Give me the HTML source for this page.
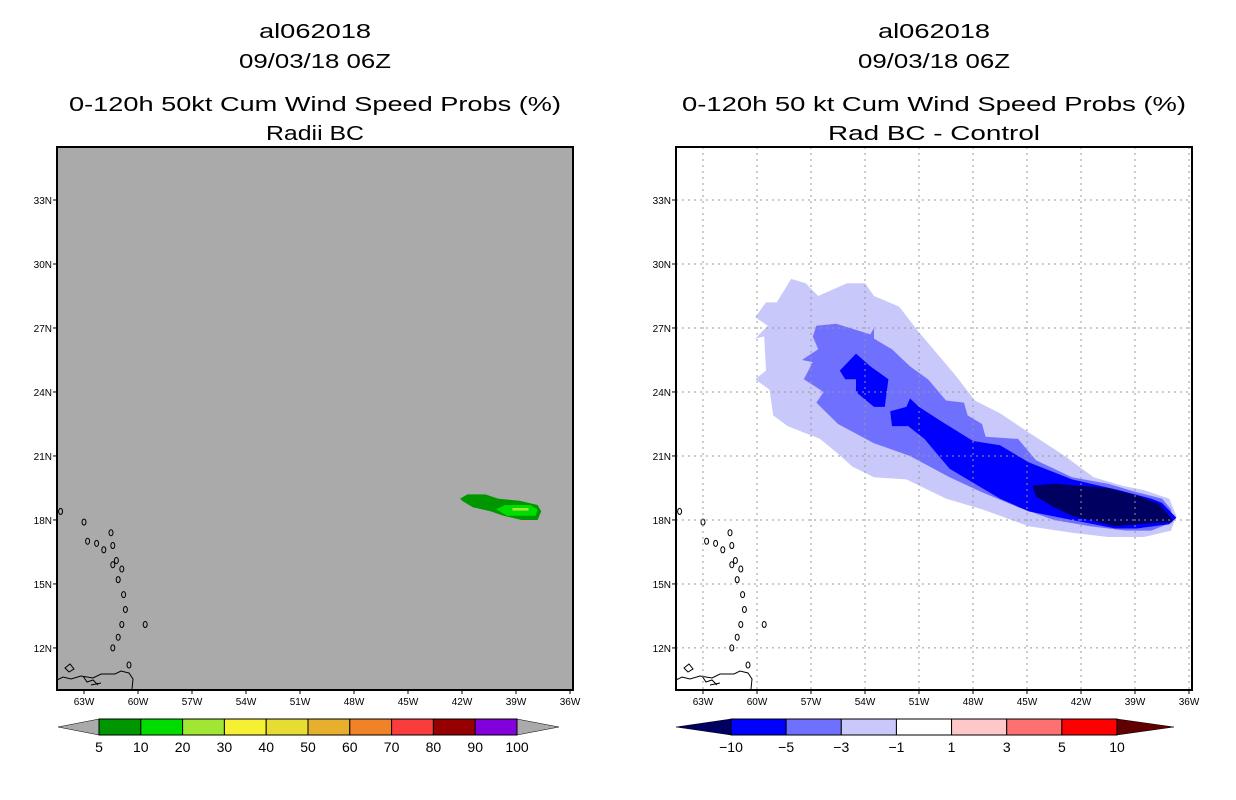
<!DOCTYPE html>
<html><head><meta charset="utf-8"><style>
html,body{margin:0;padding:0;background:#fff;}
svg{display:block;font-family:"Liberation Sans",sans-serif;}
</style></head><body>
<svg id="chart" width="1236" height="800" viewBox="0 0 1236 800" xmlns="http://www.w3.org/2000/svg">
<rect width="1236" height="800" fill="#fff"/>
<g id="left"></g>
<g id="right"></g>
</svg>
<script>
// ---- data ----
const lonTicks = [63,60,57,54,51,48,45,42,39,36];
const latTicks = [12,15,18,21,24,27,30,33];
const leftBarLabels = ['5','10','20','30','40','50','60','70','80','90','100'];
const leftBarColors = ['#009600','#00dc00','#a0e632','#f5f032','#e6dc32','#e6af2d','#f08228','#fa3c3c','#960000','#8200dc'];
const rightBarLabels = ['-10','-5','-3','-1','1','3','5','10'];
const rightBarColors = ['#0000ff','#7070ff','#c8c8fa','#ffffff','#ffc8c8','#ff7070','#ff0000'];
// left panel contours (lon W, lat N)
const probLevels = [5,10,20];
const probLon = [
 [42.1,41.7,40.7,40.0,38.8,37.8,37.6,37.8,38.7,39.7,40.4,41.4,42.0],
 [40.1,39.6,38.2,37.8,37.9,39.5],
 [39.2,38.3,38.3,39.2]
];
const probLat = [
 [19.0,19.2,19.2,19.0,18.9,18.7,18.4,18.0,18.0,18.2,18.4,18.6,18.9],
 [18.5,18.7,18.7,18.5,18.2,18.2],
 [18.56,18.56,18.44,18.44]
];
// right panel difference contours
const diffLevels = [-1,-3,-5,-5,-10];
const diffColors = ['#c8c8fa','#7070ff','#0000ff','#0000ff','#000060'];
const diffLon = [
 [58.1,57.3,56.6,55.0,54.0,53.5,52.1,51.1,50.5,48.9,47.9,46.5,44.9,42.9,41.3,39.7,38.5,37.1,36.7,37.0,38.5,40.5,42.5,44.9,47.5,49.5,51.7,53.5,54.7,55.5,56.5,58.3,59.1,59.3,60.1,59.5,59.6,60.1,59.4,60.1,59.5,58.9],
 [56.9,56.7,55.6,53.7,53.5,53.5,52.5,51.5,50.5,49.5,48.5,48.3,47.5,47.3,45.5,44.5,42.5,40.5,38.9,37.5,37.0,36.9,38.1,39.5,41.5,43.5,45.5,47.5,49.3,51.5,53.5,55.5,56.7,56.3,57.4,56.9,57.5,56.6],
 [55.4,54.5,53.7,52.7,52.9,53.5,54.5,54.5,55.1],
 [52.6,51.7,51.5,51.0,49.9,48.0,46.5,44.9,42.5,39.9,38.1,37.5,36.7,37.1,38.9,40.1,42.5,44.9,46.5,47.9,49.3,50.7,51.6,52.5],
 [44.7,43.5,40.5,38.7,37.6,36.9,37.1,38.9,40.1,42.5,43.5,44.5]
];
const diffLat = [
 [29.3,29.1,28.5,29.1,29.1,28.5,28.0,26.9,26.3,24.7,23.6,23.0,22.1,21.0,20.0,19.6,19.4,19.0,18.2,17.5,17.2,17.2,17.4,17.7,18.5,19.0,19.9,20.0,20.5,21.1,21.8,22.4,22.9,24.1,24.6,25.0,26.6,26.5,27.1,27.5,28.2,28.2],
 [26.6,27.1,27.2,26.7,27.0,26.5,26.0,25.2,24.6,23.6,23.5,22.9,22.5,21.9,21.8,20.8,20.0,19.7,19.3,19.0,18.5,17.9,17.5,17.5,17.7,18.0,18.6,19.3,20.0,21.0,21.6,22.5,23.5,24.0,24.6,25.4,25.5,26.0],
 [25.0,25.8,25.2,24.6,23.3,23.3,24.0,24.6,24.6],
 [23.1,23.3,23.7,23.3,22.7,21.7,21.5,20.7,19.9,19.4,19.0,18.8,18.1,17.8,17.6,17.6,18.0,18.4,19.0,19.7,20.4,21.8,22.4,22.4],
 [19.6,19.7,19.5,19.1,18.7,18.0,17.9,17.8,17.7,18.2,18.6,19.1]
];
// islands (lon W, lat N)
const islandLon = [64.3,63.0,62.8,62.3,61.9,61.5,61.4,61.2,61.4,60.9,61.1,60.8,60.7,60.9,61.1,61.4,59.6,60.5];
const islandLat = [18.4,17.9,17.0,16.9,16.6,17.4,16.8,16.1,15.9,15.7,15.2,14.5,13.8,13.1,12.5,12.0,13.1,11.2];

// ---- axes ----
const NS='http://www.w3.org/2000/svg';
function el(tag, attrs, parent){const e=document.createElementNS(NS,tag);for(const k in attrs)e.setAttribute(k,attrs[k]);parent.appendChild(e);return e;}
const plotTop=147, plotBot=690;
function xScale(lon, off){return 84 + off + (63-lon)*18.0;}
function yScale(lat){return 200 + (33-lat)*21.33;}
function poly(lons, lats, off){return lons.map((l,i)=>xScale(l,off).toFixed(1)+','+yScale(lats[i]).toFixed(1)).join(' ');}

function drawPanel(g, off, bg, titles){
  const x0=57+off, x1=573+off;
  titles.forEach((t,i)=>{
    const tx=el('text',{x:(x0+x1)/2,y:[38,68,111,140][i],'text-anchor':'middle','font-size':'20',fill:'#000',textLength:t[1],lengthAdjust:'spacingAndGlyphs'},g);
    
    
    tx.textContent=t[0];
  });
  const clip=el('clipPath',{id:'clip'+off},g);
  el('rect',{x:x0,y:plotTop,width:x1-x0,height:plotBot-plotTop},clip);
  const bgr=el('rect',{x:x0,y:plotTop,width:x1-x0,height:plotBot-plotTop,fill:bg},g);
  
  
  const inner=el('g',{'clip-path':'url(#clip'+off+')'},g);
  return {inner,x0,x1};
}
function drawFrame(g, off, grid, x0, x1){
  if(grid){
    lonTicks.forEach(l=>{const x=xScale(l,off);el('line',{x1:x,x2:x,y1:plotTop,y2:plotBot,stroke:'#999','stroke-width':1,'stroke-dasharray':'2,4'},g);});
    latTicks.forEach(l=>{const y=yScale(l);el('line',{x1:x0,x2:x1,y1:y,y2:y,stroke:'#999','stroke-width':1,'stroke-dasharray':'2,4'},g);});
  }
  const fr=el('rect',{x:x0,y:plotTop,width:x1-x0,height:plotBot-plotTop,fill:'none',stroke:'#000','stroke-width':2},g);
  
  
  lonTicks.forEach(l=>{
    const x=xScale(l,off);
    el('line',{x1:x,x2:x,y1:plotBot,y2:plotBot+4,stroke:'#000'},g);
    const t=el('text',{x:x,y:plotBot+15,'text-anchor':'middle','font-size':'10',fill:'#000'},g);
    
    
    t.textContent=l+'W';
  });
  latTicks.forEach(l=>{
    const y=yScale(l);
    el('line',{x1:x0-4,x2:x0,y1:y,y2:y,stroke:'#000'},g);
    const t=el('text',{x:x0-5,y:y+4,'text-anchor':'end','font-size':'10',fill:'#000'},g);
    
    
    t.textContent=l+'N';
  });
}
function drawIslands(g, off){
  islandLon.forEach((l,i)=>{
    const c=el('ellipse',{cx:xScale(l,off),cy:yScale(islandLat[i]),rx:2,ry:3,fill:'none',stroke:'#000','stroke-width':1},g);
    
    
  });
  const x=57+off;
  const p=el('path',{d:`M${x},680 l6,-3 l8,2 l10,-3 l12,2 l8,-4 l14,0 l6,-3 l8,2 l4,6 l-1,10 M${x+8},668 l5,-4 l4,5 l-5,3 z M${x+26},676 l4,6 l6,-2 l5,5 M${x+44},683 l-10,2`,fill:'none',stroke:'#000','stroke-width':1},g);
  
  
}
function drawColorbar(g, bx0, bx1, tip0, tip1, colors, labels, leftTip, rightTip, name){
  const y0=719,y1=735,ym=727;
  const w=(bx1-bx0)/colors.length;
  const cb=el('g',{},g);
  
  
  el('polygon',{points:`${tip0},${ym} ${bx0},${y0} ${bx0},${y1}`,fill:leftTip,stroke:'#000','stroke-width':0.5},cb);
  el('polygon',{points:`${tip1},${ym} ${bx1},${y0} ${bx1},${y1}`,fill:rightTip,stroke:'#000','stroke-width':0.5},cb);
  colors.forEach((c,i)=>{
    const r=el('rect',{x:bx0+i*w,y:y0,width:w,height:y1-y0,fill:c,stroke:'#000','stroke-width':1},cb);
    
    
  });
  labels.forEach((s,i)=>{
    const t=el('text',{x:bx0+i*w,y:752,'text-anchor':'middle','font-size':'14',fill:'#000'},cb);
    
    
    t.textContent=s.replace('-','\u2212');
  });
}

// Left panel
const gL=document.getElementById('left');
const L=drawPanel(gL,0,'#aaaaaa',[['al062018',112],['09/03/18 06Z',152],['0-120h 50kt Cum Wind Speed Probs (%)',492],['Radii BC',98]]);
probLevels.forEach((lv,i)=>{
  const p=el('polygon',{points:poly(probLon[i],probLat[i],0),fill:leftBarColors[i]},L.inner);
  
  
});
drawIslands(L.inner,0);
drawFrame(gL,0,false,L.x0,L.x1);
drawColorbar(gL,99,517,58,559,leftBarColors,leftBarLabels,'#aaaaaa','#aaaaaa','left-colorbar');

// Right panel
const off=619;
const gR=document.getElementById('right');
const R=drawPanel(gR,off,'#ffffff',[['al062018',112],['09/03/18 06Z',152],['0-120h 50 kt Cum Wind Speed Probs (%)',504],['Rad BC - Control',212]]);
diffLevels.forEach((lv,i)=>{
  const p=el('polygon',{points:poly(diffLon[i],diffLat[i],off),fill:diffColors[i]},R.inner);
  
  
});
drawIslands(R.inner,off);
drawFrame(gR,off,true,R.x0,R.x1);
drawColorbar(gR,731,1117,676,1174,rightBarColors,rightBarLabels,'#000060','#600000','right-colorbar');
</script>
</body></html>
